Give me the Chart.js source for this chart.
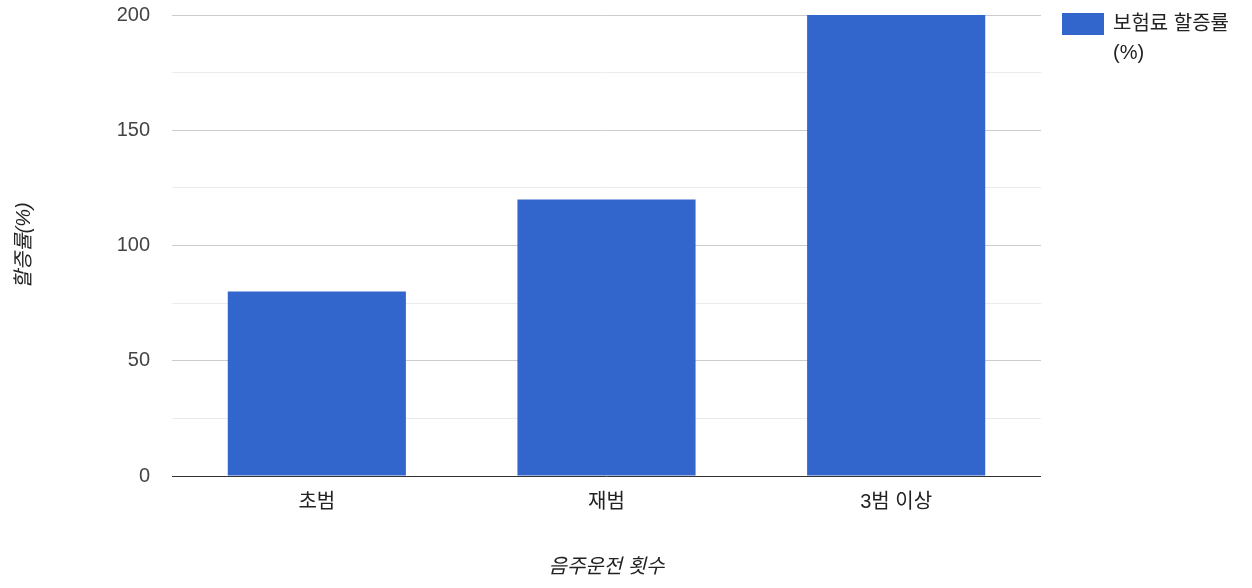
<!DOCTYPE html>
<html>
<head>
<meta charset="utf-8">
<title>음주운전 횟수별 보험료 할증률</title>
<script src="https://cdn.jsdelivr.net/npm/chart.js@4.4.1/dist/chart.umd.min.js"></script>
<style>
  body { margin: 0; background: #ffffff; }
  #wrap { width: 1252px; height: 588px; position: relative; }
</style>
</head>
<body>
<div id="wrap"><canvas id="myChart"></canvas></div>
<script>
// chart data
const categories = ["초범", "재범", "3범 이상"];
const surchargeRates = [80, 120, 200];
const seriesLabel = ["보험료 할증률", "(%)"];
const yTitle = "할증률(%)";
const xTitle = "음주운전 횟수";

const fontFamily = "Arial, 'Liberation Sans', 'Noto Sans CJK KR', sans-serif";
const barColor = "#3366cc";

// legend drawn on the right, wraps onto two lines
const sideLegend = {
    id: "sideLegend",
    afterDraw(chart) {
        const ctx = chart.ctx;
        const left = chart.chartArea.right + 21;
        ctx.save();
        ctx.fillStyle = chart.data.datasets[0].backgroundColor;
        ctx.fillRect(left, 13, 42, 22);
        ctx.fillStyle = "#222222";
        ctx.font = "20px " + fontFamily;
        ctx.textBaseline = "middle";
        ctx.textAlign = "left";
        for (let i = 0; i < seriesLabel.length; i++) {
            ctx.fillText(seriesLabel[i], left + 51, 24 + i * 29);
        }
        ctx.restore();
    }
};

const ctx = document.getElementById("myChart");

const myChart = new Chart(ctx, {
    type: "bar",
    data: {
        labels: categories,
        datasets: [{
            label: seriesLabel.join(" "),
            data: surchargeRates,
            backgroundColor: barColor,
            borderWidth: 0,
            categoryPercentage: 0.615,
            barPercentage: 1.0
        }]
    },
    options: {
        responsive: true,
        maintainAspectRatio: false,
        animation: false,
        layout: {
            padding: { left: 0, right: 211, top: 15, bottom: 0 }
        },
        plugins: {
            legend: { display: false },
            tooltip: { enabled: false }
        },
        scales: {
            x: {
                grid: { display: false, drawTicks: false },
                border: { display: false },
                ticks: {
                    color: "#222222",
                    padding: 14,
                    font: { family: fontFamily, size: 20 }
                },
                title: {
                    display: true,
                    text: xTitle,
                    color: "#222222",
                    padding: { top: 0, bottom: 9 },
                    font: { family: fontFamily, size: 20, style: "italic" }
                },
                afterFit(scale) { scale.height = 112; }
            },
            y: {
                min: 0,
                max: 200,
                grid: {
                    drawTicks: false,
                    lineWidth: 1,
                    color: (c) => {
                        if (!c.tick) return "#cccccc";
                        if (c.tick.value === 0) return "#333333";
                        return c.tick.value % 50 === 0 ? "#cccccc" : "#ebebeb";
                    }
                },
                border: { display: false },
                ticks: {
                    stepSize: 25,
                    color: "#444444",
                    padding: 22,
                    font: { family: fontFamily, size: 20 },
                    callback: (v) => (v % 50 === 0 ? v : "")
                },
                title: {
                    display: true,
                    text: yTitle,
                    color: "#222222",
                    padding: { top: 12, bottom: 0 },
                    font: { family: fontFamily, size: 20, style: "italic" }
                },
                afterFit(scale) {
                    scale.width = 172;
                    scale.paddingTop = 0;
                    scale.paddingBottom = 0;
                }
            }
        }
    },
    plugins: [sideLegend]
});
</script>
</body>
</html>
